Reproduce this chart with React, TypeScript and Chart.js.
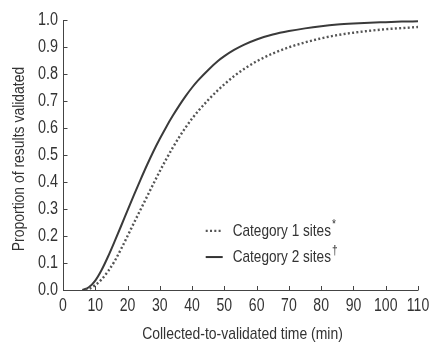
import React, { useEffect, useRef } from "react";
import { Chart, registerables } from "chart.js";

Chart.register(...registerables);

const xTicks = [0, 10, 20, 30, 40, 50, 60, 70, 80, 90, 100, 110];
const yTicks = [0, 0.1, 0.2, 0.3, 0.4, 0.5, 0.6, 0.7, 0.8, 0.9, 1.0];

const cat1X = [7, 8, 10, 12, 14, 16, 18, 20, 22, 24, 26, 28, 30, 32, 34, 36, 38, 40, 42, 45, 48, 50, 53, 56, 60, 65, 70, 75, 80, 85, 90, 95, 100, 105, 110];
const cat1Y = [0, 0.004, 0.018, 0.04, 0.07, 0.107, 0.152, 0.2, 0.249, 0.297, 0.345, 0.393, 0.44, 0.485, 0.527, 0.566, 0.602, 0.635, 0.664, 0.704, 0.74, 0.762, 0.792, 0.818, 0.847, 0.876, 0.899, 0.917, 0.932, 0.944, 0.953, 0.96, 0.966, 0.97, 0.974];

const cat2X = [6, 8, 10, 12, 14, 16, 18, 20, 22, 24, 26, 28, 30, 32, 34, 36, 38, 40, 42, 45, 48, 50, 53, 56, 60, 65, 70, 75, 80, 85, 90, 95, 100, 105, 110];
const cat2Y = [0, 0.01, 0.035, 0.075, 0.125, 0.18, 0.237, 0.295, 0.352, 0.408, 0.462, 0.513, 0.56, 0.604, 0.645, 0.683, 0.718, 0.75, 0.778, 0.815, 0.848, 0.866, 0.889, 0.908, 0.928, 0.946, 0.959, 0.969, 0.977, 0.983, 0.987, 0.99, 0.992, 0.994, 0.995];

const seriesLabels = ["Category 1 sites", "Category 2 sites"];
const seriesMarks = ["*", "\u2020"];
const xTitle = "Collected-to-validated time (min)";
const yTitle = "Proportion of results validated";

const FONT = "'Liberation Sans', Arimo, Arial, sans-serif";
const TEXT = "#333";

function narrowText(ctx: any, text: string, x: number, y: number, size: number, align: string, squeeze: number, rot = 0) {
  ctx.save();
  ctx.translate(x, y);
  if (rot) ctx.rotate(rot);
  ctx.scale(squeeze, 1);
  ctx.font = `${size}px ${FONT}`;
  ctx.textAlign = align;
  ctx.textBaseline = "middle";
  ctx.fillText(text, 0, 0);
  ctx.restore();
}

const axisPlugin = {
  id: "customAxes",
  afterDraw(chart: any) {
    const { ctx, chartArea, scales } = chart;
    const xs = scales.x;
    const ys = scales.y;
    ctx.save();
    ctx.strokeStyle = "#444";
    ctx.lineWidth = 1;
    ctx.beginPath();
    ctx.moveTo(chartArea.left + 0.5, chartArea.top);
    ctx.lineTo(chartArea.left + 0.5, chartArea.bottom + 0.5);
    ctx.lineTo(chartArea.right, chartArea.bottom + 0.5);
    ctx.stroke();
    const tl = 4;
    ctx.beginPath();
    yTicks.forEach((v) => {
      const y = Math.round(ys.getPixelForValue(v)) + 0.5;
      ctx.moveTo(chartArea.left, y);
      ctx.lineTo(chartArea.left + tl + 0.5, y);
    });
    xTicks.forEach((v) => {
      const x = Math.round(xs.getPixelForValue(v)) + 0.5;
      ctx.moveTo(x, chartArea.bottom + 0.5);
      ctx.lineTo(x, chartArea.bottom - tl);
    });
    ctx.stroke();

    // tick labels
    ctx.fillStyle = TEXT;
    yTicks.forEach((v) => {
      narrowText(ctx, v.toFixed(1), chartArea.left - 5, ys.getPixelForValue(v) + 0.5, 18, "right", 0.8);
    });
    xTicks.forEach((v) => {
      narrowText(ctx, String(v), xs.getPixelForValue(v), chartArea.bottom + 16, 18, "center", 0.78);
    });
    // titles
    const cx = (chartArea.left + chartArea.right) / 2;
    const cy = (chartArea.top + chartArea.bottom) / 2;
    narrowText(ctx, xTitle, cx + 2, chartArea.bottom + 44, 17, "center", 0.82);
    narrowText(ctx, yTitle, 19, cy + 4, 17, "center", 0.82, -Math.PI / 2);

    // legend
    const w = chartArea.right - chartArea.left;
    const h = chartArea.bottom - chartArea.top;
    const lx = chartArea.left + w * 0.402;
    const rows = [chartArea.top + h * 0.781, chartArea.top + h * 0.878];
    const dashes = [[2, 2.3], []];
    const widths = [2.2, 2];
    const colors = ["#555", "#333"];
    rows.forEach((ry, i) => {
      ctx.strokeStyle = colors[i];
      ctx.lineWidth = widths[i];
      ctx.setLineDash(dashes[i]);
      ctx.beginPath();
      ctx.moveTo(lx, ry);
      ctx.lineTo(lx + 17, ry);
      ctx.stroke();
      ctx.setLineDash([]);
      ctx.fillStyle = TEXT;
      narrowText(ctx, seriesLabels[i], lx + 27, ry + 0.5, 17, "left", 0.8);
      ctx.font = `17px ${FONT}`;
      const tw = ctx.measureText(seriesLabels[i]).width * 0.8;
      narrowText(ctx, seriesMarks[i], lx + 28 + tw, ry - 6, 12, "left", 0.85);
    });
    ctx.restore();
  },
};

export default function App() {
  const ref = useRef<HTMLCanvasElement | null>(null);
  useEffect(() => {
    document.body.style.margin = "0";
    const canvas = ref.current;
    if (!canvas) return;
    const chart = new Chart(canvas, {
      type: "line",
      data: {
        datasets: [
          {
            label: seriesLabels[0],
            data: cat1X.map((x, i) => ({ x, y: cat1Y[i] })),
            borderColor: "#555",
            borderWidth: 2.4,
            borderDash: [2, 2.3],
            pointRadius: 0,
            cubicInterpolationMode: "monotone",
            fill: false,
          },
          {
            label: seriesLabels[1],
            data: cat2X.map((x, i) => ({ x, y: cat2Y[i] })),
            borderColor: "#3a3a3a",
            borderWidth: 2,
            pointRadius: 0,
            cubicInterpolationMode: "monotone",
            fill: false,
          },
        ],
      },
      options: {
        animation: false,
        responsive: false,
        devicePixelRatio: 1,
        layout: { padding: { left: 0, top: 20, right: 15, bottom: 0 } },
        plugins: { legend: { display: false }, tooltip: { enabled: false } },
        scales: {
          x: {
            type: "linear",
            min: 0,
            max: 110,
            grid: { display: false },
            border: { display: false },
            afterBuildTicks: (s: any) => {
              s.ticks = xTicks.map((v) => ({ value: v }));
            },
            afterFit: (s: any) => {
              s.height = 52;
            },
            ticks: { display: false },
          },
          y: {
            type: "linear",
            min: 0,
            max: 1,
            grid: { display: false },
            border: { display: false },
            afterBuildTicks: (s: any) => {
              s.ticks = yTicks.map((v) => ({ value: v }));
            },
            afterFit: (s: any) => {
              s.width = 63;
            },
            ticks: { display: false },
          },
        },
      },
      plugins: [axisPlugin],
    });
    return () => chart.destroy();
  }, []);
  return (
    <div style={{ width: 433, height: 342, background: "#fff" }}>
      <canvas ref={ref} width={433} height={342} style={{ display: "block" }} />
    </div>
  );
}
